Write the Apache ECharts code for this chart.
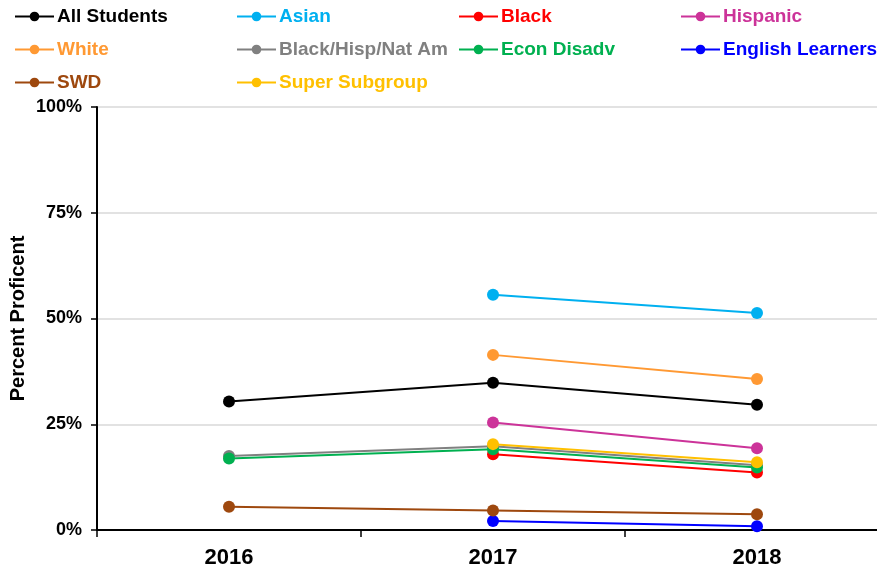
<!DOCTYPE html>
<html>
<head>
<meta charset="utf-8">
<script src="https://cdn.jsdelivr.net/npm/echarts@6/dist/echarts.min.js"></script>
<style>
  html, body { margin: 0; padding: 0; background: #fff; }
  #chart { width: 877px; height: 573px; }
</style>
</head>
<body>
<div id="chart"></div>
<script>
// School years on the x axis
const years = ['2016', '2017', '2018'];

// Percent proficient per student group (null = not reported)
const allStudents   = [30.4, 34.8, 29.6];
const asian         = [null, 55.6, 51.3];
const black         = [null, 17.9, 13.6];
const hispanic      = [null, 25.4, 19.3];
const white         = [null, 41.4, 35.7];
const blackHispNat  = [17.5, 19.8, 15.3];
const econDisadv    = [16.9, 19.1, 14.8];
const englishLearn  = [null, 2.1, 0.9];
const swd           = [5.5, 4.6, 3.7];
const superSubgroup = [null, 20.3, 16.0];

// Y axis range and ticks (percent)
const yMin = 0, yMax = 100, yStep = 25;

const groups = [
  { name: 'All Students',       data: allStudents,   color: '#000000' },
  { name: 'Asian',              data: asian,         color: '#00B0F0' },
  { name: 'Black',              data: black,         color: '#FF0000' },
  { name: 'Hispanic',           data: hispanic,      color: '#CC3399' },
  { name: 'White',              data: white,         color: '#FF9933' },
  { name: 'Black/Hisp/Nat Am',  data: blackHispNat,  color: '#808080' },
  { name: 'Econ Disadv',        data: econDisadv,    color: '#00B050' },
  { name: 'English Learners',   data: englishLearn,  color: '#0000FF' },
  { name: 'SWD',                data: swd,           color: '#9E480E' },
  { name: 'Super Subgroup',     data: superSubgroup, color: '#FFC000' }
];

const font = '"Liberation Sans", Arial, Helvetica, sans-serif';

// Legend laid out as a 4-column grid, one legend block per entry
const colX = [14, 236, 458, 680];
const rowY = [7, 40, 73];
const legends = groups.map((g, i) => ({
  data: [g.name],
  left: colX[i % 4],
  top: rowY[Math.floor(i / 4)],
  itemWidth: 39,
  itemHeight: 12,
  itemGap: 0,
  padding: 0,
  textStyle: { color: g.color, fontFamily: font, fontWeight: 'bold', fontSize: 19, padding: [0, 0, 0, -2] }
}));

const chart = echarts.init(document.getElementById('chart'), null, { renderer: 'canvas' });
chart.setOption({
  animation: false,
  backgroundColor: '#ffffff',
  legend: legends,
  grid: { left: 97, top: 107, bottom: 43, right: -12, containLabel: false, outerBoundsMode: 'none' },
  xAxis: {
    type: 'category',
    data: years,
    boundaryGap: true,
    axisLine: { lineStyle: { color: '#000', width: 2 } },
    axisTick: { show: true, length: 7, lineStyle: { color: '#000', width: 1.5 } },
    axisLabel: { color: '#000', fontFamily: font, fontWeight: 'bold', fontSize: 22, margin: 17 },
    splitLine: { show: false }
  },
  yAxis: {
    type: 'value',
    min: yMin, max: yMax, interval: yStep,
    name: 'Percent Proficent',
    nameLocation: 'middle',
    nameRotate: 90,
    nameGap: 69,
    nameMoveOverlap: false,
    nameTextStyle: { color: '#000', fontFamily: font, fontWeight: 'bold', fontSize: 20 },
    axisLine: { show: true, lineStyle: { color: '#000', width: 2 } },
    axisTick: { show: true, inside: false, length: 6, lineStyle: { color: '#000', width: 1.5 } },
    axisLabel: { color: '#000', fontFamily: font, fontWeight: 'bold', fontSize: 18, margin: 15, formatter: '{value}%' },
    splitLine: { show: true, lineStyle: { color: '#D9D9D9', width: 1.5 } }
  },
  series: groups.map(g => ({
    name: g.name,
    type: 'line',
    data: g.data,
    symbol: 'circle',
    symbolSize: 12,
    itemStyle: { color: g.color },
    lineStyle: { color: g.color, width: 2 },
    connectNulls: false
  }))
});
</script>
</body>
</html>
